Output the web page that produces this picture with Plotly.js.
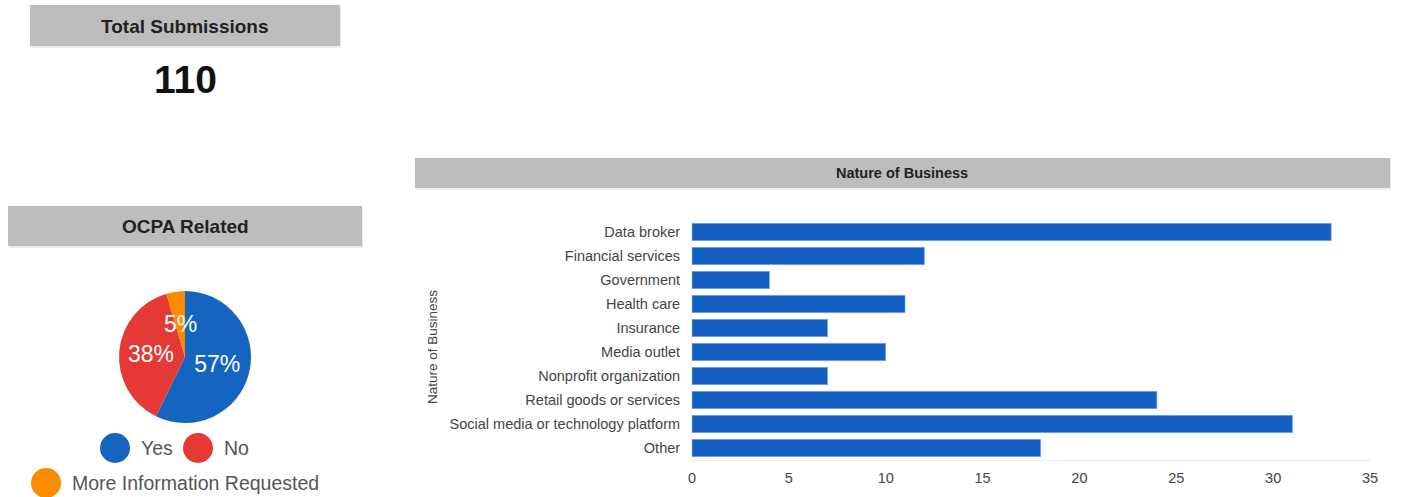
<!DOCTYPE html>
<html>
<head>
<meta charset="utf-8">
<script src="https://cdn.plot.ly/plotly-3.0.1.min.js"></script>
<style>
html,body{margin:0;padding:0;background:#fff;}
#chart{width:1424px;height:497px;}
</style>
</head>
<body>
<div id="chart"></div>
<script>
// ---- data ----
const totalSubmissions = 110;
const pieLabels = ["Yes", "No", "More Information Requested"];
const pieValues = [63, 42, 5];
const pieColors = ["#1565c0", "#e53935", "#fb8c00"];

const businessCategories = [
  "Data broker", "Financial services", "Government", "Health care", "Insurance",
  "Media outlet", "Nonprofit organization", "Retail goods or services",
  "Social media or technology platform", "Other"
];
const businessCounts = [33, 12, 4, 11, 7, 10, 7, 24, 31, 18];
const xTickValues = [0, 5, 10, 15, 20, 25, 30, 35];

// ---- layout helpers ----
const W = 1424, H = 497;
const px = x => x / W;
const py = y => 1 - y / H;
const font = "Liberation Sans, Arial, sans-serif";

const shapes = [];
const annotations = [];

function box(x0, y0, x1, y1) {
  shapes.push({type: "rect", xref: "paper", yref: "paper", layer: "below",
    x0: px(x0+1), x1: px(x1+1), y0: py(y1+2), y1: py(y0+2),
    fillcolor: "rgba(0,0,0,0.07)", line: {width: 0}});
  shapes.push({type: "rect", xref: "paper", yref: "paper", layer: "below",
    x0: px(x0), x1: px(x1), y0: py(y1), y1: py(y0),
    fillcolor: "#bdbdbd", line: {width: 0}});
}
function label(x, y, text, size, color, anchor) {
  annotations.push({xref: "paper", yref: "paper", x: px(x), y: py(y), text: text,
    showarrow: false, xanchor: anchor || "center", yanchor: "middle",
    font: {family: font, size: size, color: color}});
  return annotations[annotations.length - 1];
}

box(30, 5, 340, 46);
label(185, 26, "<b>Total Submissions</b>", 19, "#222");
label(185, 80, "<b>" + totalSubmissions + "</b>", 39, "#111");

box(8, 206, 362, 246);
label(185, 226, "<b>OCPA Related</b>", 19, "#222");

box(415, 158, 1390, 188);
label(902, 173, "<b>Nature of Business</b>", 14.5, "#222");

// custom pie legend (circle markers) built from pie arrays
const legendPos = [[115, 448], [198, 448], [46, 483]];
pieLabels.forEach((lab, i) => {
  const [cx, cy] = legendPos[i];
  const r = 15;
  shapes.push({type: "circle", xref: "paper", yref: "paper",
    x0: px(cx - r), x1: px(cx + r), y0: py(cy + r), y1: py(cy - r),
    fillcolor: pieColors[i], line: {width: 0}});
  label(cx + r + 9, cy, lab, 19.5, "#555", "left");
});

// y-axis title
label(432, 347, "Nature of Business", 13.5, "#444").textangle = -90;

// pie geometry
const pieCx = 185, pieCy = 357, pieR = 66;
const pieTotal = pieValues.reduce((a, b) => a + b, 0);
// small slices: place the percentage label at half radius along the slice's mid-angle
const smallSlice = pieValues.map(v => v / pieTotal < 0.1);
let cum = 0;
pieValues.forEach((v, i) => {
  const mid = (cum + v / 2) / pieTotal * 2 * Math.PI; // clockwise from 12 o'clock
  cum += v;
  if (smallSlice[i]) {
    const lx = pieCx + 0.5 * pieR * Math.sin(mid);
    const ly = pieCy - 0.5 * pieR * Math.cos(mid);
    label(lx, ly, Math.round(v / pieTotal * 100) + "%", 23, "#fff");
  }
});

const traces = [
  {
    type: "pie",
    labels: pieLabels,
    values: pieValues,
    marker: {colors: pieColors, line: {width: 0}},
    sort: false,
    direction: "clockwise",
    rotation: 0,
    texttemplate: "%{percent:.0%}",
    textposition: smallSlice.map(s => s ? "none" : "inside"),
    insidetextorientation: "horizontal",
    textfont: {family: font, size: 23, color: "#fff"},
    hoverinfo: "label+value+percent",
    showlegend: false,
    domain: {x: [px(pieCx - pieR), px(pieCx + pieR)], y: [py(pieCy + pieR), py(pieCy - pieR)]}
  },
  {
    type: "bar",
    orientation: "h",
    y: businessCategories,
    x: businessCounts,
    marker: {color: "#1360c2", line: {color: "#8fb3e6", width: 0.6}},
    width: 0.72,
    showlegend: false,
    xaxis: "x",
    yaxis: "y"
  }
];

const layout = {
  width: W, height: H,
  margin: {l: 0, r: 0, t: 0, b: 0},
  paper_bgcolor: "#fff",
  plot_bgcolor: "#fff",
  showlegend: false,
  font: {family: font, color: "#444"},
  xaxis: {
    domain: [px(692), px(1370)],
    range: [0, 35],
    tickvals: xTickValues,
    showgrid: false,
    zeroline: false,
    showline: true,
    linecolor: "#e6e6e6",
    linewidth: 1,
    ticks: "",
    ticklabelstandoff: 5,
    tickfont: {family: font, size: 14.5, color: "#444"},
    fixedrange: true
  },
  yaxis: {
    domain: [py(460), py(220)],
    autorange: "reversed",
    categoryorder: "array",
    categoryarray: businessCategories,
    showgrid: false,
    zeroline: false,
    showline: true,
    linecolor: "#f0f0f0",
    ticks: "",
    ticklabelstandoff: 8,
    tickfont: {family: font, size: 14.5, color: "#444"},
    fixedrange: true
  },
  shapes: shapes,
  annotations: annotations
};

Plotly.newPlot("chart", traces, layout, {displayModeBar: false, staticPlot: true});
</script>
</body>
</html>
